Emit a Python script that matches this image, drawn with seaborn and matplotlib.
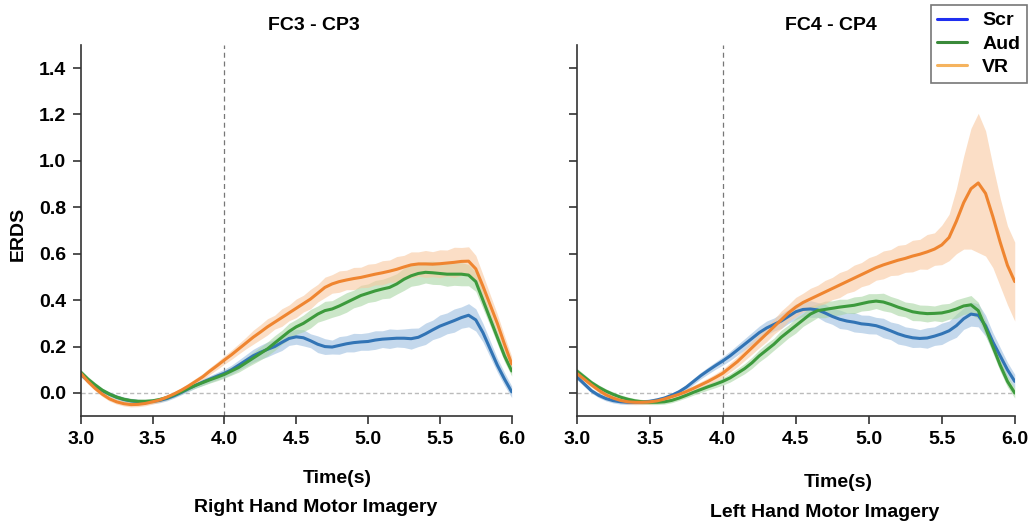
import numpy as np
import pandas as pd
import matplotlib
matplotlib.use("Agg")
import matplotlib.pyplot as plt
import seaborn as sns
from matplotlib.lines import Line2D

# ---------------- data ----------------
time = [round(3.0 + 0.05 * i, 2) for i in range(61)]

left_scr = [0.08, 0.055, 0.03, 0.01, -0.005, -0.018, -0.028, -0.034, -0.037, -0.038,
            -0.036, -0.032, -0.024, -0.012, 0.002, 0.018, 0.033, 0.047, 0.06, 0.073,
            0.085, 0.10, 0.12, 0.14, 0.16, 0.175, 0.188, 0.20, 0.218, 0.235,
            0.242, 0.238, 0.225, 0.21, 0.20, 0.198, 0.205, 0.212, 0.217, 0.22,
            0.222, 0.228, 0.232, 0.234, 0.236, 0.236, 0.234, 0.24, 0.255, 0.272,
            0.288, 0.30, 0.312, 0.325, 0.335, 0.315, 0.26, 0.19, 0.12, 0.06, 0.005]
left_aud = [0.09, 0.06, 0.035, 0.012, -0.005, -0.018, -0.027, -0.033, -0.036, -0.036,
            -0.034, -0.028, -0.02, -0.008, 0.005, 0.02, 0.033, 0.045, 0.057, 0.068,
            0.08, 0.095, 0.11, 0.13, 0.15, 0.17, 0.19, 0.215, 0.24, 0.265,
            0.285, 0.30, 0.32, 0.34, 0.355, 0.362, 0.375, 0.39, 0.405, 0.42,
            0.43, 0.44, 0.448, 0.455, 0.47, 0.49, 0.505, 0.515, 0.52, 0.518,
            0.515, 0.512, 0.512, 0.512, 0.508, 0.48, 0.40, 0.32, 0.24, 0.16, 0.095]
left_vr = [0.085, 0.05, 0.02, -0.005, -0.025, -0.038, -0.046, -0.05, -0.049, -0.045,
           -0.038, -0.03, -0.018, -0.004, 0.012, 0.03, 0.05, 0.07, 0.095, 0.118,
           0.142, 0.165, 0.19, 0.215, 0.24, 0.262, 0.285, 0.305, 0.325, 0.345,
           0.365, 0.385, 0.405, 0.43, 0.455, 0.47, 0.48, 0.487, 0.493, 0.498,
           0.505, 0.512, 0.518, 0.525, 0.533, 0.543, 0.552, 0.556, 0.556, 0.555,
           0.557, 0.56, 0.563, 0.567, 0.568, 0.535, 0.46, 0.38, 0.30, 0.21, 0.125]

right_scr = [0.07, 0.04, 0.01, -0.01, -0.024, -0.033, -0.038, -0.04, -0.04, -0.039,
             -0.036, -0.03, -0.022, -0.01, 0.005, 0.025, 0.05, 0.075, 0.097, 0.118,
             0.138, 0.16, 0.185, 0.21, 0.235, 0.26, 0.28, 0.295, 0.31, 0.33,
             0.35, 0.36, 0.362, 0.358, 0.345, 0.33, 0.318, 0.31, 0.305, 0.298,
             0.295, 0.29, 0.28, 0.268, 0.255, 0.245, 0.238, 0.235, 0.237, 0.245,
             0.255, 0.268, 0.29, 0.32, 0.34, 0.335, 0.29, 0.22, 0.16, 0.10, 0.05]
right_aud = [0.095, 0.07, 0.045, 0.025, 0.008, -0.006, -0.018, -0.027, -0.034, -0.038,
             -0.04, -0.04, -0.038, -0.032, -0.022, -0.01, 0.003, 0.015, 0.027, 0.038,
             0.05, 0.065, 0.085, 0.105, 0.13, 0.16, 0.185, 0.21, 0.24, 0.265,
             0.29, 0.315, 0.34, 0.355, 0.36, 0.365, 0.37, 0.374, 0.378, 0.385,
             0.392, 0.396, 0.392, 0.382, 0.37, 0.36, 0.35, 0.345, 0.342, 0.343,
             0.345, 0.352, 0.362, 0.375, 0.38, 0.355, 0.28, 0.20, 0.12, 0.05, 0.0]
right_vr = [0.085, 0.06, 0.035, 0.012, -0.008, -0.022, -0.032, -0.038, -0.04, -0.04,
            -0.038, -0.034, -0.026, -0.016, -0.006, 0.006, 0.02, 0.035, 0.05, 0.067,
            0.085, 0.11, 0.135, 0.165, 0.195, 0.225, 0.255, 0.285, 0.315, 0.345,
            0.37, 0.39, 0.405, 0.42, 0.435, 0.45, 0.465, 0.48, 0.495, 0.51,
            0.525, 0.54, 0.552, 0.562, 0.572, 0.58, 0.59, 0.598, 0.608, 0.62,
            0.638, 0.67, 0.74, 0.82, 0.88, 0.905, 0.86, 0.76, 0.65, 0.55, 0.48]

# half-widths of the shaded bands
left_scr_hw = [0.012, 0.011, 0.01, 0.01, 0.01, 0.01, 0.01, 0.01, 0.01, 0.01,
               0.01, 0.01, 0.01, 0.01, 0.01, 0.012, 0.012, 0.014, 0.015, 0.016,
               0.018, 0.02, 0.022, 0.025, 0.028, 0.03, 0.032, 0.03, 0.035, 0.03,
               0.032, 0.035, 0.03, 0.036, 0.034, 0.03, 0.038, 0.035, 0.04, 0.036,
               0.038, 0.04, 0.036, 0.042, 0.038, 0.04, 0.045, 0.04, 0.046, 0.042,
               0.048, 0.045, 0.05, 0.046, 0.05, 0.048, 0.04, 0.035, 0.03, 0.028, 0.025]
left_aud_hw = [0.012, 0.011, 0.01, 0.01, 0.01, 0.01, 0.01, 0.01, 0.01, 0.01,
               0.01, 0.01, 0.01, 0.01, 0.01, 0.011, 0.012, 0.013, 0.014, 0.015,
               0.016, 0.018, 0.02, 0.022, 0.025, 0.028, 0.03, 0.032, 0.03, 0.035,
               0.032, 0.036, 0.04, 0.035, 0.04, 0.036, 0.04, 0.042, 0.038, 0.044,
               0.04, 0.045, 0.042, 0.046, 0.044, 0.048, 0.045, 0.05, 0.046, 0.05,
               0.048, 0.052, 0.048, 0.05, 0.046, 0.042, 0.036, 0.03, 0.028, 0.025, 0.022]
left_vr_hw = [0.012, 0.011, 0.01, 0.01, 0.01, 0.01, 0.01, 0.01, 0.01, 0.01,
              0.01, 0.01, 0.01, 0.01, 0.01, 0.012, 0.013, 0.014, 0.015, 0.016,
              0.018, 0.02, 0.022, 0.025, 0.03, 0.032, 0.035, 0.03, 0.038, 0.034,
              0.04, 0.036, 0.042, 0.038, 0.044, 0.04, 0.046, 0.042, 0.048, 0.044,
              0.05, 0.046, 0.052, 0.048, 0.055, 0.05, 0.056, 0.052, 0.058, 0.054,
              0.06, 0.056, 0.065, 0.06, 0.062, 0.058, 0.05, 0.044, 0.04, 0.036, 0.032]
right_scr_hw = [0.012, 0.011, 0.01, 0.01, 0.01, 0.01, 0.01, 0.01, 0.01, 0.01,
                0.01, 0.01, 0.01, 0.01, 0.01, 0.012, 0.013, 0.014, 0.015, 0.016,
                0.018, 0.02, 0.022, 0.024, 0.026, 0.028, 0.03, 0.028, 0.032, 0.03,
                0.034, 0.03, 0.036, 0.032, 0.038, 0.034, 0.04, 0.036, 0.042, 0.038,
                0.04, 0.036, 0.042, 0.038, 0.044, 0.04, 0.042, 0.038, 0.044, 0.04,
                0.046, 0.042, 0.05, 0.046, 0.052, 0.05, 0.045, 0.04, 0.036, 0.032, 0.03]
right_aud_hw = [0.012, 0.011, 0.01, 0.01, 0.01, 0.01, 0.01, 0.01, 0.01, 0.01,
                0.01, 0.01, 0.01, 0.01, 0.01, 0.011, 0.012, 0.013, 0.014, 0.015,
                0.016, 0.018, 0.02, 0.022, 0.024, 0.026, 0.028, 0.026, 0.03, 0.028,
                0.032, 0.028, 0.034, 0.03, 0.036, 0.032, 0.034, 0.03, 0.036, 0.032,
                0.036, 0.032, 0.038, 0.034, 0.036, 0.032, 0.038, 0.034, 0.036, 0.032,
                0.038, 0.034, 0.04, 0.036, 0.04, 0.036, 0.032, 0.028, 0.026, 0.024, 0.022]
right_vr_hw = [0.012, 0.011, 0.01, 0.01, 0.01, 0.01, 0.01, 0.01, 0.01, 0.01,
               0.01, 0.01, 0.01, 0.01, 0.01, 0.012, 0.013, 0.014, 0.015, 0.016,
               0.018, 0.02, 0.022, 0.025, 0.028, 0.03, 0.034, 0.032, 0.038, 0.036,
               0.042, 0.04, 0.046, 0.044, 0.05, 0.048, 0.054, 0.05, 0.056, 0.052,
               0.058, 0.054, 0.06, 0.056, 0.064, 0.06, 0.068, 0.064, 0.075, 0.07,
               0.085, 0.1, 0.14, 0.2, 0.26, 0.3, 0.27, 0.22, 0.19, 0.17, 0.17]

conditions = ["Scr", "Aud", "VR"]
panel_titles = ["FC3 - CP3", "FC4 - CP4"]
panel_subtitles = ["Right Hand Motor Imagery", "Left Hand Motor Imagery"]
xticks = [3.0, 3.5, 4.0, 4.5, 5.0, 5.5, 6.0]
yticks = [0.0, 0.2, 0.4, 0.6, 0.8, 1.0, 1.2, 1.4]

panels = [
    {"Scr": (left_scr, left_scr_hw), "Aud": (left_aud, left_aud_hw), "VR": (left_vr, left_vr_hw)},
    {"Scr": (right_scr, right_scr_hw), "Aud": (right_aud, right_aud_hw), "VR": (right_vr, right_vr_hw)},
]

# ---------------- style ----------------
sns.set_theme(style="ticks")
plt.rcParams["font.family"] = ["Liberation Sans", "DejaVu Sans"]
plt.rcParams["font.weight"] = "bold"
plt.rcParams["text.color"] = "black"

line_colors = {"Scr": "#3274b5", "Aud": "#3c9a3c", "VR": "#ef8530"}
band_colors = {"Scr": "#9dbfe0", "Aud": "#a9d6a4", "VR": "#f9c9a0"}
legend_colors = {"Scr": "#1f2ff0", "Aud": "#3a8a3a", "VR": "#f5b35e"}

FS = 14

fig = plt.figure(figsize=(10.36, 5.23), dpi=100)
ax_pos = [[0.0779, 0.2042, 0.416, 0.710], [0.5567, 0.2042, 0.4228, 0.710]]
axes = [fig.add_axes(p) for p in ax_pos]

for i, ax in enumerate(axes):
    rows = []
    for c in conditions:
        m, hw = panels[i][c]
        for t, v in zip(time, m):
            rows.append({"time": t, "ERDS": v, "cond": c})
        lo = np.array(m) - np.array(hw)
        hi = np.array(m) + np.array(hw)
        ax.fill_between(time, lo, hi, color=band_colors[c], alpha=0.6, lw=0)
    df = pd.DataFrame(rows)
    sns.lineplot(data=df, x="time", y="ERDS", hue="cond", palette=line_colors,
                 errorbar=None, lw=2.2, ax=ax, legend=False)
    ax.axhline(0, color="#bbbbbb", ls=(0, (3, 2)), lw=1, zorder=0)
    ax.axvline(4.0, color="#777777", ls=(0, (4, 3)), lw=0.9, zorder=0)
    ax.set_xlim(3.0, 6.0)
    ax.set_ylim(-0.1, 1.5)
    ax.set_xticks(xticks)
    ax.set_xticklabels([f"{t:.1f}" for t in xticks], fontsize=FS, fontweight="bold")
    ax.set_yticks(yticks)
    if i == 0:
        ax.set_yticklabels([f"{t:.1f}" for t in yticks], fontsize=FS, fontweight="bold")
    else:
        ax.set_yticklabels([])
    ax.set_ylabel("")
    ax.set_xlabel("")
    for s in ["top", "right"]:
        ax.spines[s].set_visible(False)
    for s in ["left", "bottom"]:
        ax.spines[s].set_color("#333333")
        ax.spines[s].set_linewidth(1.2)
    ax.tick_params(axis="both", direction="out", length=5.5, width=1.2, color="#333333",
                   pad=5, labelcolor="black")

fig.text(0.018, 0.553, "ERDS", rotation=90, ha="center", va="center", fontsize=FS, fontweight="bold")
fig.text(0.303, 0.951, panel_titles[0], ha="center", va="center", fontsize=FS, fontweight="bold")
fig.text(0.802, 0.951, panel_titles[1], ha="center", va="center", fontsize=FS, fontweight="bold")
fig.text(0.326, 0.086, "Time(s)", ha="center", va="center", fontsize=FS, fontweight="bold")
fig.text(0.305, 0.029, panel_subtitles[0], ha="center", va="center", fontsize=FS, fontweight="bold")
fig.text(0.809, 0.0765, "Time(s)", ha="center", va="center", fontsize=FS, fontweight="bold")
fig.text(0.796, 0.020, panel_subtitles[1], ha="center", va="center", fontsize=FS, fontweight="bold")

handles = [Line2D([0], [0], color=legend_colors[c], lw=2.2) for c in conditions]
leg = fig.legend(handles, conditions, loc="upper right",
                 bbox_to_anchor=(1027 / 1036, 1 - 5 / 523),
                 frameon=True, fancybox=False, edgecolor="#555555",
                 handlelength=1.5, handletextpad=0.8, borderpad=0.35, labelspacing=0.3,
                 borderaxespad=0.0, prop={"weight": "bold", "size": FS})
leg.get_frame().set_linewidth(1.2)

fig.savefig("out.png", dpi=100)
